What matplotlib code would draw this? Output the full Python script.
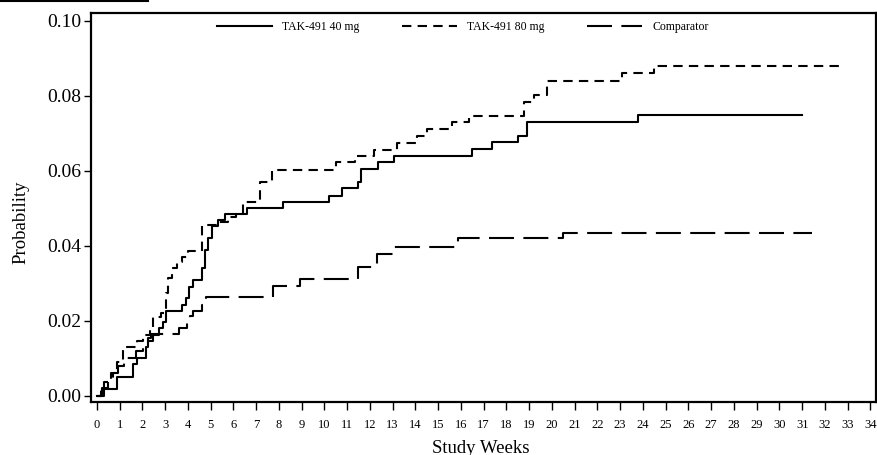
import numpy as np
import matplotlib.pyplot as plt
from matplotlib.lines import Line2D

plt.rcParams['font.family'] = ['Liberation Serif', 'DejaVu Serif']

# step times (weeks) and cumulative probability
wk_40 = [0, 0.31, 0.89, 1.60, 1.75, 2.18, 2.25, 2.45, 2.74, 2.89, 3.03, 3.75, 3.90,
         4.06, 4.21, 4.63, 4.76, 4.89, 5.07, 5.31, 5.63, 6.58, 8.16, 10.2, 10.76,
         11.49, 11.6, 12.34, 13.05, 16.5, 17.35, 18.49, 18.91, 23.77, 31.0]
p_40 = [0, 0.0018, 0.0051, 0.0085, 0.0101, 0.0131, 0.0147, 0.0163, 0.018, 0.0196,
        0.0227, 0.0243, 0.026, 0.029, 0.0309, 0.034, 0.0389, 0.042, 0.0454, 0.0469,
        0.0486, 0.0501, 0.0518, 0.0534, 0.0554, 0.0571, 0.0605, 0.0623, 0.0641,
        0.0658, 0.0678, 0.0694, 0.0731, 0.0749, 0.0749]

wk_80 = [0, 0.16, 0.32, 0.62, 0.87, 1.13, 1.77, 2.04, 2.33, 2.47, 2.84, 3.03, 3.13,
         3.28, 3.50, 3.72, 4.01, 4.60, 5.32, 5.76, 6.11, 6.43, 7.16, 7.69, 10.49,
         11.34, 12.19, 13.17, 14.08, 14.49, 15.62, 16.35, 18.77, 19.22, 19.77,
         23.09, 24.5, 32.66]
p_80 = [0, 0.0018, 0.0037, 0.0062, 0.0091, 0.0131, 0.0147, 0.0163, 0.0179, 0.0211,
        0.0222, 0.0274, 0.0314, 0.034, 0.0358, 0.0371, 0.0387, 0.0456, 0.0463,
        0.0478, 0.0487, 0.0516, 0.0571, 0.0603, 0.0623, 0.0639, 0.0656, 0.0675,
        0.0693, 0.0711, 0.073, 0.0747, 0.0783, 0.0803, 0.084, 0.0862, 0.0879, 0.0879]

wk_comp = [0, 0.22, 0.48, 0.70, 0.92, 1.19, 1.71, 2.02, 2.24, 2.40, 3.62, 3.96, 4.09,
           4.22, 4.60, 4.78, 7.75, 8.92, 11.49, 12.32, 13.05, 15.88, 20.5, 31.43]
p_comp = [0, 0.002, 0.004, 0.006, 0.008, 0.010, 0.012, 0.014, 0.0155, 0.0165, 0.018,
          0.0199, 0.0213, 0.0227, 0.0243, 0.0263, 0.0293, 0.0312, 0.0345, 0.0379,
          0.0398, 0.042, 0.0435, 0.0435]

fig = plt.figure(figsize=(8.78, 4.55), dpi=100)
ax = fig.add_axes([0.1036, 0.1165, 0.894, 0.855])

ax.plot(wk_40, p_40, drawstyle='steps-post', color='black', lw=1.5,
        label='TAK-491 40 mg')
ax.plot(wk_80, p_80, drawstyle='steps-post', color='black', lw=1.5,
        dashes=(4.5, 3), label='TAK-491 80 mg')
ax.plot(wk_comp, p_comp, drawstyle='steps-post', color='black', lw=1.5,
        dashes=(12, 4.5), label='Comparator')

ax.set_xlim(-0.26, 34.24)
ax.set_ylim(-0.0016, 0.1021)
ax.set_xticks(np.arange(0, 35))
ax.set_yticks([0, 0.02, 0.04, 0.06, 0.08, 0.10])
ax.set_yticklabels(['0.00', '0.02', '0.04', '0.06', '0.08', '0.10'])
ax.tick_params(axis='x', labelsize=9, length=6, width=1, pad=6)
ax.tick_params(axis='y', labelsize=14, length=5, width=1, pad=2)
for s in ax.spines.values():
    s.set_linewidth(1.6)

ax.set_xlabel('Study Weeks', fontsize=13.5)
ax.xaxis.set_label_coords(0.497, -0.097)
ax.set_ylabel('Probability', fontsize=13.5)
ax.yaxis.set_label_coords(-0.078, 0.463)

ax.legend(loc='upper center', ncol=3, frameon=False, fontsize=8.5,
          handlelength=4.65, handletextpad=0.85, columnspacing=3.6,
          bbox_to_anchor=(0.474, 1.0), borderaxespad=0.3)

# cropped heading underline at the top left
fig.add_artist(Line2D([0, 148 / 878], [0.998, 0.998], color='black', lw=1.5,
                      transform=fig.transFigure))

fig.savefig('out.png', dpi=100)
